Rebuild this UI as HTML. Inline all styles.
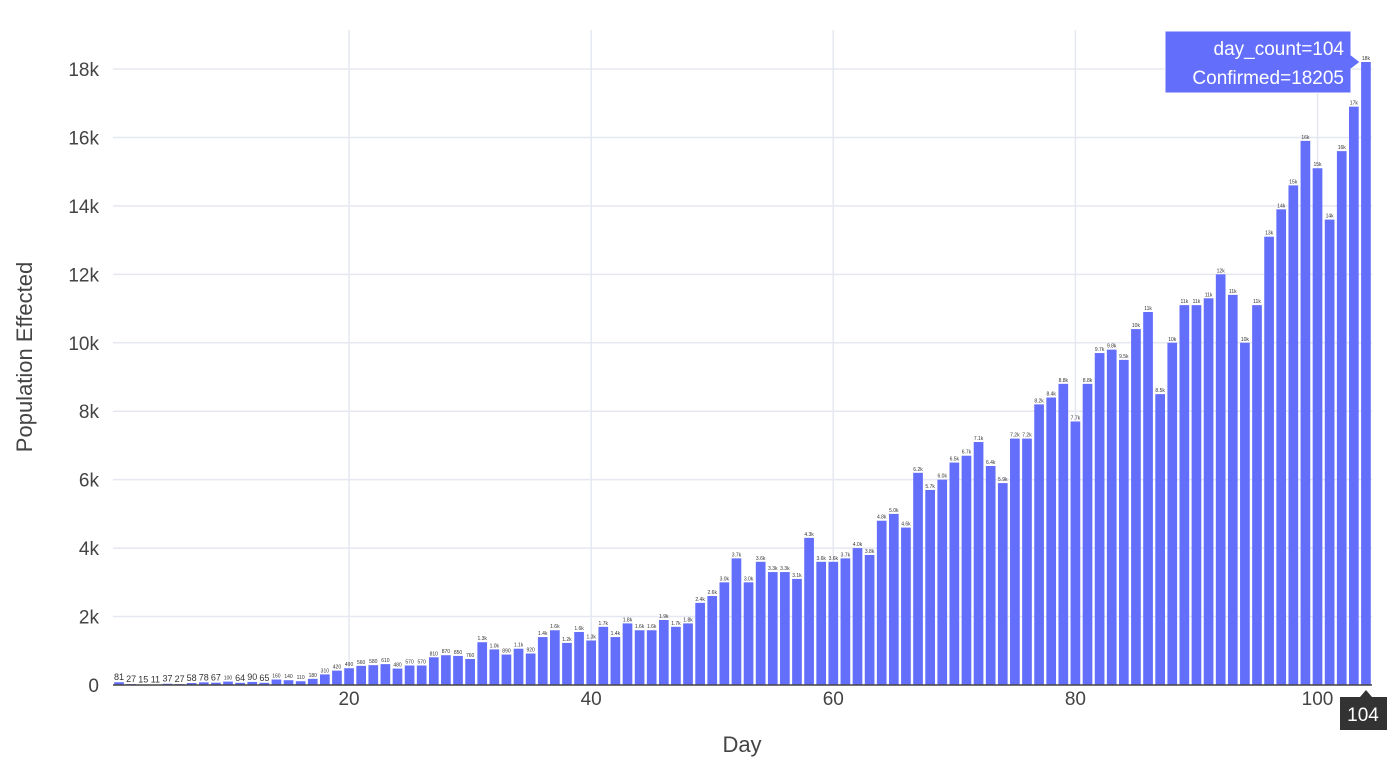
<!DOCTYPE html>
<html><head><meta charset="utf-8"><style>
body{margin:0;background:#fff;}
svg{display:block;font-family:"Liberation Sans",Arial,sans-serif;}
</style></head><body>
<svg id="chart" width="1400" height="767" xmlns="http://www.w3.org/2000/svg"></svg>
<script>
const days = Array.from({length:104},(_,i)=>i+1);
const confirmed = [81,27,15,11,37,27,58,78,67,100,64,90,65,160,140,110,180,310,420,490,
560,580,610,480,570,570,810,870,850,760,1250,1040,890,1060,920,1400,1600,1230,1550,1300,
1700,1400,1800,1600,1600,1900,1700,1800,2400,2600,3000,3700,3000,3600,3300,3300,3100,4300,3600,3600,
3700,4000,3800,4800,5000,4600,6200,5700,6000,6500,6700,7100,6400,5900,7200,7200,8200,8400,8800,7700,
8800,9700,9800,9500,10400,10900,8500,10000,11100,11100,11300,12000,11400,10000,11100,13100,13900,14600,15900,15100,
13600,15600,16900,18205];
const yTicks = [0,2000,4000,6000,8000,10000,12000,14000,16000,18000];
const yTickLabels = ["0","2k","4k","6k","8k","10k","12k","14k","16k","18k"];
const xTicks = [20,40,60,80,100];

const NS="http://www.w3.org/2000/svg";
const svg=document.getElementById('chart');
const L=113,R=1372,Y0=685,YT=69;
const xs=d=>L+(d-0.5)*(R-L)/104;
const ys=v=>Y0-(v/18000)*(Y0-YT);
function el(tag,attrs,parent){const e=document.createElementNS(NS,tag);for(const k in attrs)e.setAttribute(k,attrs[k]);(parent||svg).appendChild(e);return e;}
function fmt(v){if(v<1000)return String(v);const k=v/1000;return k>=10?Math.round(k)+"k":k.toFixed(1)+"k";}

const grid=el('g',{});


yTicks.forEach((t,i)=>{
  if(t>0){el('line',{x1:L,x2:R,y1:ys(t),y2:ys(t),stroke:'#e5e8f1','stroke-width':1.5},grid);}
  const tx=el('text',{x:99,y:ys(t)+7,'text-anchor':'end','font-size':19,fill:'#444'});
  tx.textContent=yTickLabels[i];
  
  
});
xTicks.forEach(t=>{
  el('line',{x1:xs(t),x2:xs(t),y1:30,y2:Y0,stroke:'#e5e8f1','stroke-width':1.5},grid);
  const tx=el('text',{x:xs(t),y:705,'text-anchor':'middle','font-size':19,fill:'#444'});
  tx.textContent=t;
  
  
});
const bw=(R-L)/104*0.8;
days.forEach((d,i)=>{
  const v=confirmed[i];
  const r=el('rect',{x:xs(d)-bw/2,y:ys(v),width:bw,height:Y0-ys(v),fill:'#636efa'});
  
  
  const t=el('text',{x:xs(d),y:ys(v)-2,'text-anchor':'middle','font-size':(v<100)?9:5,fill:'#333'});
  t.textContent=i===103?"18k":fmt(v);
  
  
});
el('line',{x1:L,x2:R,y1:Y0,y2:Y0,stroke:'#444','stroke-width':1.5});
</script>
<svg style="position:absolute;left:0;top:0" width="1400" height="767" xmlns="http://www.w3.org/2000/svg">
<text x="742" y="752" text-anchor="middle" font-size="22" fill="#444" font-family="Liberation Sans, sans-serif">Day</text>
<text transform="translate(32,357) rotate(-90)" text-anchor="middle" font-size="22" fill="#444" font-family="Liberation Sans, sans-serif">Population Effected</text>
<g>
<path d="M1165,31 H1351 V55 L1360,62 L1351,69 V93 H1165 Z" fill="#636efa" stroke="#fff" stroke-width="1"/>
<text x="1344" y="55" text-anchor="end" font-size="19" fill="#fff" font-family="Liberation Sans, sans-serif">day_count=104</text>
<text x="1344" y="84" text-anchor="end" font-size="19" fill="#fff" font-family="Liberation Sans, sans-serif">Confirmed=18205</text>
</g>
<g>
<path d="M1340,697 H1360 L1366,690 L1372,697 H1387 V730 H1340 Z" fill="#333"/>
<text x="1363" y="721" text-anchor="middle" font-size="19" fill="#fff" font-family="Liberation Sans, sans-serif">104</text>
</g>
</svg>
</body></html>
